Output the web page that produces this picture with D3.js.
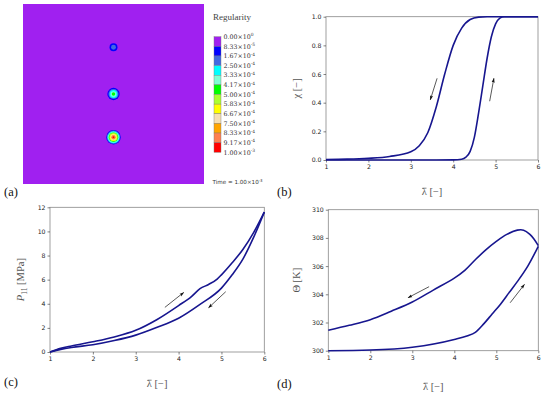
<!DOCTYPE html>
<html>
<head>
<meta charset="utf-8">
<script src="https://cdn.jsdelivr.net/npm/d3@7"></script>
<style>
  body { margin: 0; background: #fff; }
  svg { display: block; }
  .tick text { font-family: "DejaVu Sans", sans-serif; font-size: 6.2px; fill: #222; }
  .tick line { stroke: #333; stroke-width: 0.6; }
  .lbl { font-family: "Liberation Serif", serif; fill: #555; font-size: 10.5px; }
  .plab { font-family: "Liberation Serif", serif; fill: #111; font-size: 12.5px; }
</style>
</head>
<body>
<svg id="chart" width="550" height="394"></svg>
<script>
// ---- data ----
// (a) regularity field legend
var legendValues = ['0.00×10^0', '8.33×10^-5', '1.67×10^-4', '2.50×10^-4', '3.33×10^-4', '4.17×10^-4',
  '5.00×10^-4', '5.83×10^-4', '6.67×10^-4', '7.50×10^-4', '8.33×10^-4', '9.17×10^-4', '1.00×10^-3'];
var legendColors = ['#a020f0', '#0000ff', '#4169e1', '#00ffff', '#7fffd4', '#00ff00',
  '#adff2f', '#ffff00', '#f5deb3', '#ffa500', '#ff7f50', '#ff0000'];
// spots: position in unit square, outer radius (fraction), peak colour level
var spotX = [0.5, 0.5, 0.5];
var spotY = [0.24, 0.5, 0.74];
var spotR = [0.022, 0.034, 0.04];
var spotPeak = [2, 5, 11];

// (b) phase fraction chi vs stretch
var bLoadX = [1, 2, 3, 4, 4.2, 4.3, 4.4, 4.5, 4.6, 4.7, 4.8, 4.9, 5.0, 5.1, 5.2, 6];
var bLoadY = [0, 0, 0, 0.001, 0.005, 0.02, 0.06, 0.16, 0.33, 0.52, 0.71, 0.86, 0.95, 0.99, 1, 1];
var bUnloadX = [1, 1.5, 2, 2.5, 3, 3.2, 3.4, 3.6, 3.8, 4.0, 4.2, 4.4, 4.6, 4.8, 6];
var bUnloadY = [0.004, 0.006, 0.012, 0.025, 0.058, 0.1, 0.19, 0.37, 0.6, 0.8, 0.92, 0.98, 0.997, 1, 1];

// (c) nominal stress P11 [MPa]
var cLoadX = [1, 1.25, 1.5, 2, 2.5, 3, 3.5, 4, 4.3, 4.5, 4.7, 4.9, 5.0, 5.25, 5.5, 5.75, 6];
var cLoadY = [0, 0.3, 0.5, 0.85, 1.25, 1.8, 2.7, 3.85, 4.6, 5.25, 5.6, 6.05, 6.4, 7.4, 8.5, 9.9, 11.6];
var cUnloadX = [1, 1.25, 1.5, 2, 2.5, 3, 3.5, 4, 4.5, 5, 5.25, 5.5, 5.75, 6];
var cUnloadY = [0, 0.22, 0.38, 0.6, 0.95, 1.4, 2.05, 2.8, 3.95, 5.3, 6.4, 7.7, 9.5, 11.6];

// (d) temperature Theta [K]
var dLoadX = [1, 2, 3, 4, 4.3, 4.5, 4.7, 4.9, 5.1, 5.3, 5.5, 5.75, 6];
var dLoadY = [300, 300.05, 300.25, 300.8, 301.05, 301.3, 301.9, 302.6, 303.3, 304.1, 304.9, 306.0, 307.4];
var dUnloadX = [1, 1.5, 2, 2.5, 3, 3.5, 4, 4.25, 4.5, 4.75, 5, 5.25, 5.5, 5.65, 5.8, 5.9, 6];
var dUnloadY = [301.45, 301.8, 302.2, 302.8, 303.45, 304.3, 305.15, 305.7, 306.45, 307.15, 307.75, 308.25, 308.55, 308.55, 308.25, 307.9, 307.45];

var xTicks = [1, 2, 3, 4, 5, 6];
var bYTicks = [0, 0.2, 0.4, 0.6, 0.8, 1.0];
var cYTicks = [0, 2, 4, 6, 8, 10, 12];
var dYTicks = [300, 302, 304, 306, 308, 310];

// arrows [x0, y0, x1, y1] in data units
var bArrows = [[3.62, 0.57, 3.46, 0.42], [4.86, 0.41, 4.96, 0.57]];
var cArrows = [[3.68, 3.7, 4.12, 4.94], [5.1, 5.0, 4.7, 3.67]];
var dArrows = [[3.4, 304.54, 2.9, 303.76], [5.33, 303.4, 5.67, 304.7]];

var lineColor = '#17168f';

var svg = d3.select('#chart');
svg.append('defs').append('marker')
  .attr('id', 'ah').attr('viewBox', '0 0 10 10').attr('refX', 9).attr('refY', 5)
  .attr('markerWidth', 7).attr('markerHeight', 7).attr('orient', 'auto')
  .append('path').attr('d', 'M0,1.8 L10,5 L0,8.2 L2,5 Z').attr('fill', '#111');

function zip(xs, ys) {
  return xs.map(function(d, i) { return [d, ys[i]]; });
}

// superscript text helper: "a×10^b"
function sciText(sel, s, size) {
  var parts = s.split('^');
  sel.append('tspan').text(parts[0]);
  sel.append('tspan').attr('dy', -size * 0.4).attr('font-size', size * 0.7).text(parts[1]);
}

// ---------- panel (a) ----------
var ax0 = 23, ay0 = 4, aw = 181, ah = 180;
var sx = d3.scaleLinear().domain([0, 1]).range([ax0, ax0 + aw]);
var sy = d3.scaleLinear().domain([0, 1]).range([ay0, ay0 + ah]);
var sr = d3.scaleLinear().domain([0, 1]).range([0, aw]);
svg.append('rect').attr('x', sx(0)).attr('y', sy(0)).attr('width', sr(1)).attr('height', sy(1) - sy(0))
  .attr('fill', legendColors[0]);
spotX.forEach(function(x, i) {
  var levels = d3.range(1, spotPeak[i] + 1);
  svg.selectAll('.spot' + i).data(levels).enter().append('circle')
    .attr('cx', sx(x)).attr('cy', sy(spotY[i]))
    .attr('r', function(k) { return sr(spotR[i]) * (1 - (k - 1) / (spotPeak[i] + 0.6)); })
    .attr('fill', function(k) { return legendColors[k]; });
});

// legend
var lg = svg.append('g');
lg.append('text').attr('x', 213).attr('y', 20).attr('font-family', 'Liberation Serif, serif')
  .attr('font-size', 9).attr('fill', '#444').text('Regularity');
var ly = d3.scaleLinear().domain([0, legendColors.length]).range([36.7, 152.3]);
lg.selectAll('rect.lc').data(legendColors).enter().append('rect')
  .attr('x', 214).attr('width', 7)
  .attr('y', function(d, i) { return ly(i); })
  .attr('height', ly(1) - ly(0))
  .attr('fill', function(d) { return d; })
  .attr('stroke', '#777').attr('stroke-width', 0.4);
legendValues.forEach(function(v, i) {
  var t = lg.append('text').attr('x', 223.5).attr('y', ly(i) + 2.2)
    .attr('font-family', 'DejaVu Serif, serif').attr('font-size', 6.3).attr('fill', '#333');
  sciText(t, v, 6.3);
});
var tt = lg.append('text').attr('x', 212.5).attr('y', 184).attr('font-family', 'DejaVu Sans, sans-serif')
  .attr('font-size', 5.6).attr('fill', '#333');
sciText(tt, 'Time = 1.00×10^-3', 5.6);

// ---------- line panels ----------
function panel(opt) {
  var x = d3.scaleLinear().domain([1, 6]).range([opt.l, opt.r]);
  var y = d3.scaleLinear().domain(opt.ydom).range([opt.b, opt.t]);
  var g = svg.append('g');
  g.append('rect').attr('x', opt.l).attr('y', opt.t).attr('width', opt.r - opt.l).attr('height', opt.b - opt.t)
    .attr('fill', 'none').attr('stroke', '#888').attr('stroke-width', 0.8);
  g.append('g').attr('transform', 'translate(0,' + opt.b + ')')
    .call(d3.axisBottom(x).tickValues(xTicks).tickSize(2.5).tickPadding(2).tickFormat(d3.format('d')))
    .call(function(a) { a.select('.domain').remove(); });
  g.append('g').attr('transform', 'translate(' + opt.l + ',0)')
    .call(d3.axisLeft(y).tickValues(opt.yticks).tickSize(2.5).tickPadding(2).tickFormat(opt.yfmt))
    .call(function(a) { a.select('.domain').remove(); });
  var line = d3.line().x(function(d) { return x(d[0]); }).y(function(d) { return y(d[1]); })
    .curve(d3.curveMonotoneX);
  var line2 = d3.line().x(function(d) { return x(d[0]); }).y(function(d) { return y(d[1]); })
    .curve(d3.curveCatmullRom.alpha(0.5));
  opt.series.forEach(function(s, i) {
    g.append('path').datum(s).attr('d', opt.smooth && opt.smooth[i] ? line2 : line)
      .attr('fill', 'none').attr('stroke', lineColor).attr('stroke-width', 1.6);
  });
  opt.arrows.forEach(function(a) {
    g.append('line').attr('x1', x(a[0])).attr('y1', y(a[1])).attr('x2', x(a[2])).attr('y2', y(a[3]))
      .attr('stroke', '#111').attr('stroke-width', 0.7).attr('marker-end', 'url(#ah)');
  });
  // axis labels: lambda with a bar drawn over it
  var xl = g.append('text').attr('class', 'lbl').attr('x', (opt.l + opt.r) / 2).attr('y', opt.xly)
    .attr('text-anchor', 'middle').text('λ [−]');
  var bb = xl.node().getExtentOfChar(0);
  g.append('line').attr('x1', bb.x + 0.8).attr('x2', bb.x + bb.width - 0.3)
    .attr('y1', bb.y + 2.2).attr('y2', bb.y + 2.2).attr('stroke', '#555').attr('stroke-width', 0.7);
  var yl = g.append('text').attr('class', 'lbl').attr('text-anchor', 'middle')
    .attr('transform', 'translate(' + opt.ylx + ',' + (opt.t + opt.b) / 2 + ') rotate(-90)');
  opt.ylab(yl);
  svg.append('text').attr('class', 'plab').attr('x', opt.px).attr('y', opt.py).text(opt.name);
}

panel({
  l: 326, r: 538, t: 16.7, b: 160, ydom: [0, 1], yticks: bYTicks, yfmt: d3.format('.1f'),
  series: [zip(bLoadX, bLoadY), zip(bUnloadX, bUnloadY)], arrows: bArrows,
  xly: 195, ylx: 300, px: 277, py: 196, name: '(b)',
  ylab: function(t) { t.append('tspan').text('χ [−]'); }
});
panel({
  l: 50, r: 264.3, t: 207.3, b: 352, ydom: [0, 12], yticks: cYTicks, yfmt: d3.format('d'),
  series: [zip(cLoadX, cLoadY), zip(cUnloadX, cUnloadY)], arrows: cArrows,
  xly: 387, ylx: 24, px: 4, py: 386, name: '(c)',
  ylab: function(t) {
    t.append('tspan').attr('font-style', 'italic').text('P');
    t.append('tspan').attr('dy', 2.5).attr('font-size', 7.5).text('11');
    t.append('tspan').attr('dy', -2.5).text(' [MPa]');
  }
});
panel({
  l: 328.3, r: 538.3, t: 209.7, b: 350.7, ydom: [300, 310], yticks: dYTicks, yfmt: d3.format('d'),
  series: [zip(dLoadX, dLoadY), zip(dUnloadX, dUnloadY)], arrows: dArrows, smooth: [false, true],
  xly: 390, ylx: 300, px: 277, py: 388, name: '(d)',
  ylab: function(t) { t.append('tspan').text('Θ [K]'); }
});
svg.append('text').attr('class', 'plab').attr('x', 4).attr('y', 196).text('(a)');
</script>
</body>
</html>
